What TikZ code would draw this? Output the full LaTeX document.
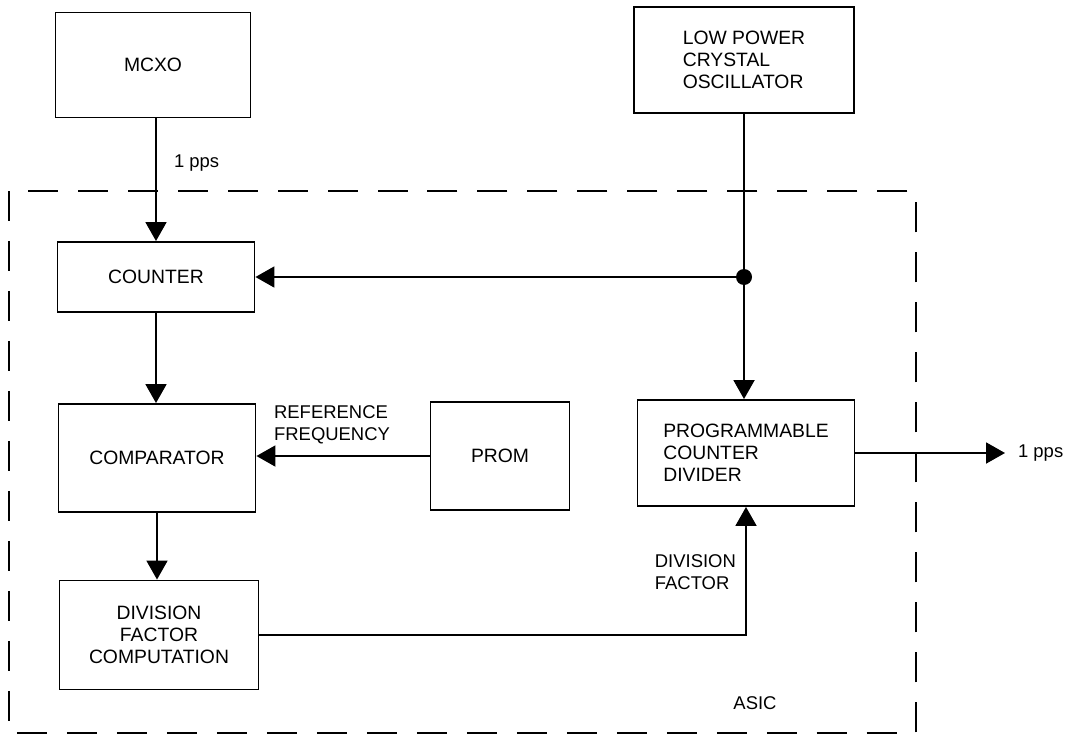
\documentclass[tikz,border=0pt]{standalone}
\usepackage{fontspec}
\setmainfont{Liberation Sans}
\usetikzlibrary{arrows.meta,positioning}
\tikzset{
    block/.style={draw, line width=1.1pt, font=\fontsize{11}{12.5}\selectfont, inner sep=2pt},
    sig/.style={line width=1.1pt, -{Triangle[length=0.38cm,width=0.42cm]}},
    wire/.style={line width=1.1pt},
    lbl/.style={font=\fontsize{10.5}{12.5}\selectfont, align=left, inner sep=1pt},
    asicbox/.style={line width=1.1pt, dash pattern=on 0.6cm off 0.4cm}
}

\begin{document}
\begin{tikzpicture}[x=0.02cm, y=-0.02cm]
    \useasboundingbox (0,0) rectangle (1071,740);
    % ASIC boundary
    \draw[asicbox] (9,191) rectangle (916,733);
    \node[lbl] (asic) at (755,703) {ASIC};

    % blocks
    \node[block, minimum width=3.9cm, minimum height=2.1cm] (mcxo) at (153,65) {MCXO};
    \node[block, minimum width=4.4cm, minimum height=2.12cm, align=left] (lpco) at (744,60)
        {LOW POWER\\ CRYSTAL\\ OSCILLATOR};
    \node[block, minimum width=3.94cm, minimum height=1.4cm] (counter) at (156,277) {COUNTER};
    \node[block, minimum width=3.94cm, minimum height=2.16cm] (comp) at (157,458) {COMPARATOR};
    \node[block, minimum width=2.78cm, minimum height=2.16cm] (prom) at (500,456) {PROM};
    \node[block, minimum width=4.34cm, minimum height=2.12cm, align=left] (pcd) at (746,453)
        {PROGRAMMABLE\\ COUNTER\\ DIVIDER};
    \node[block, minimum width=3.98cm, minimum height=2.18cm, align=center] (dfc) at (159,635)
        {DIVISION\\ FACTOR\\ COMPUTATION};

    % connectors
    \coordinate (tap) at (lpco.south |- counter.east);
    \coordinate (out) at (1005,453);
    \draw[sig] (mcxo.south -| counter.north) -- (counter.north);
    \node[lbl, anchor=west] (pps1) at (172,163) {1 pps};
    \draw[wire] (lpco.south) -- (tap);
    \draw[sig] (tap) -- (counter.east);
    \draw[sig] (tap) -- (tap |- pcd.north);
    \fill (tap) circle (0.16cm);
    \draw[sig] (counter.south) -- (counter.south |- comp.north);
    \draw[sig] (prom.west) -- (prom.west -| comp.east);
    \node[lbl, anchor=west] (reffreq) at (272,425) {REFERENCE\\FREQUENCY};
    \draw[sig] (comp.south) -- (comp.south |- dfc.north);
    \draw[sig] (dfc.east) -| (pcd.south);
    \node[lbl, anchor=east] (divfac) at (738,572) {DIVISION\\FACTOR};
    \draw[sig] (pcd.east) -- (out);
    \node[lbl, anchor=west] (pps2) at (1016,453) {1 pps};
\end{tikzpicture}
\end{document}
